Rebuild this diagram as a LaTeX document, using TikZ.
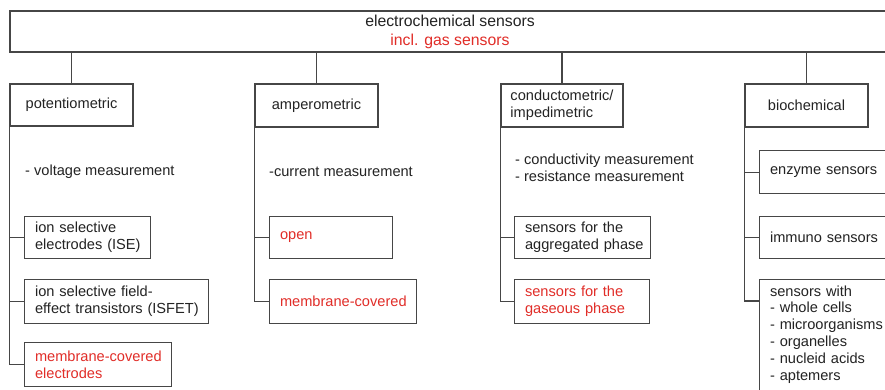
\documentclass[tikz,border=0pt]{standalone}
\usepackage{fontspec}
\setmainfont{Liberation Sans}
\definecolor{linec}{RGB}{70,70,70}
\definecolor{txt}{RGB}{35,35,35}
\definecolor{redt}{RGB}{225,45,40}
\newcommand{\mkline}[1]{\mbox{#1}}
\begin{document}
\begin{tikzpicture}[x=1pt,y=-1pt,
  base/.style={font=\fontsize{14.6pt}{16.8pt}\selectfont, text=txt},
  lvl/.style={base, draw=linec, fill=white, line width=1.1pt, align=left, inner xsep=0pt, inner ysep=0pt},
  sub/.style={base, draw=linec, fill=white, line width=1.1pt, align=left, anchor=north west, inner xsep=10.5pt, inner ysep=0pt},
  plain/.style={base, align=left, anchor=west, inner sep=0pt},
  conn/.style={draw=linec, line width=1.1pt},
  redtxt/.style={text=redt}]
\clip (0,0) rectangle (885,389);
\fill[white] (0,0) rectangle (885,389);
% top
\node[lvl, align=center, minimum width=880pt, minimum height=41pt,
      font=\fontsize{15.8pt}{19pt}\selectfont] (top) at (450,31.5)
  {electrochemical sensors\\\textcolor{redt}{incl. gas sensors}};
% level 1
\node[lvl, minimum width=123pt, minimum height=42pt] (pot) at (71.5,105) {potentiometric};
\node[lvl, minimum width=123pt, minimum height=43pt] (amp) at (316.5,105.5) {amperometric};
\node[lvl, minimum width=122pt, minimum height=43pt] (con) at (562,105.5) {conductometric/\\impedimetric};
\node[lvl, minimum width=123pt, minimum height=43pt] (bio) at (806.5,105.5) {biochemical};
\foreach \n in {pot,amp,con,bio} \draw[conn] (top.south -| \n.north) -- (\n.north);
% descriptions
\node[plain] (potd) at (25,172) {- voltage measurement};
\node[plain] (ampd) at (269,172) {-current measurement};
\node[plain] (cond) at (515,167.5) {- conductivity measurement\\- resistance measurement};
% potentiometric children
\node[sub, text width=105pt, minimum height=42pt] (ise) at (24,216) {\mkline{ion selective}\\\mkline{electrodes (ISE)}};
\node[sub, text width=163pt, minimum height=44pt] (isfet) at (24,279) {\mkline{ion selective field-}\\\mkline{effect transistors (ISFET)}};
\node[sub, redtxt, text width=126pt, minimum height=44pt] (mce) at (24,342) {\mkline{membrane-covered}\\\mkline{electrodes}};
% amperometric children
\node[sub, redtxt, text width=102pt, minimum height=42pt] (open) at (269,216) {open};
\node[sub, redtxt, text width=126pt, minimum height=44pt] (mcov) at (269,279) {\mkline{membrane-covered}};
% conductometric children
\node[sub, text width=115pt, minimum height=42pt] (agg) at (514,216) {\mkline{sensors for the}\\\mkline{aggregated phase}};
\node[sub, redtxt, text width=114pt, minimum height=44pt] (gas) at (514,279) {\mkline{sensors for the}\\\mkline{gaseous phase}};
% biochemical children
\node[sub, text width=110pt, minimum height=43pt] (enz) at (759,150) {\mkline{enzyme sensors}};
\node[sub, text width=110pt, minimum height=42pt] (imm) at (759,216) {\mkline{immuno sensors}};
\node[sub, text width=110pt, inner ysep=6pt, text depth=95pt] (with) at (759,279)
  {\mkline{sensors with}\\\mkline{- whole cells}\\\mkline{- microorganisms}\\\mkline{- organelles}\\\mkline{- nucleid acids}\\\mkline{- aptemers}};
% spines
\draw[conn] (pot.south west) |- (ise.west);
\draw[conn] (pot.south west) |- (isfet.west);
\draw[conn] (pot.south west) |- (mce.west);
\draw[conn] (amp.south west) |- (open.west);
\draw[conn] (amp.south west) |- (mcov.west);
\draw[conn] (con.south west) |- (agg.west);
\draw[conn] (con.south west) |- (gas.west);
\draw[conn] (bio.south west) |- (enz.west);
\draw[conn] (bio.south west) |- (imm.west);
\draw[conn] (bio.south west) |- ([yshift=-22pt]with.north west);
\end{tikzpicture}
\end{document}
